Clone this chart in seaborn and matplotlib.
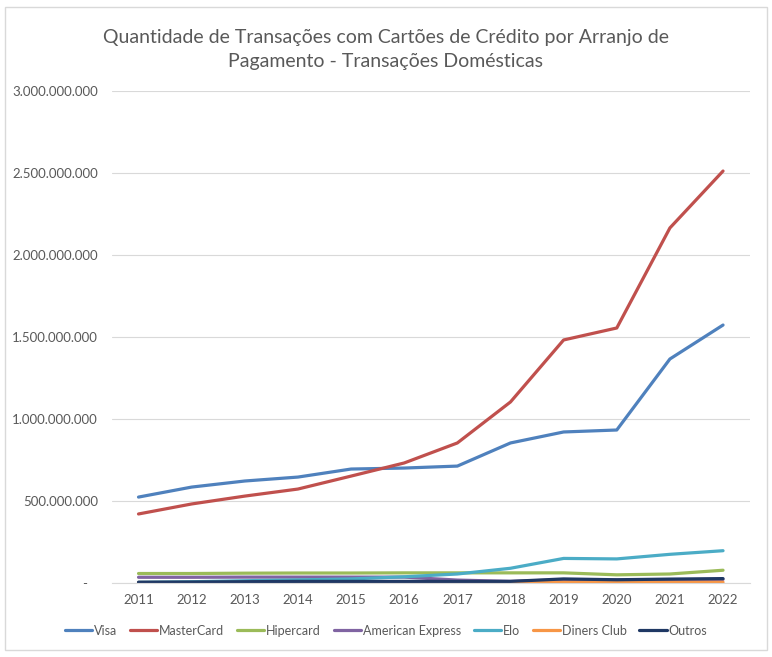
import pandas as pd
import matplotlib.pyplot as plt
import matplotlib.ticker as mticker
from matplotlib.patches import Rectangle
import seaborn as sns

# Values (number of transactions)
anos = ['2011', '2012', '2013', '2014', '2015', '2016', '2017', '2018', '2019', '2020', '2021', '2022']
visa = [524e6, 585e6, 622e6, 646e6, 695e6, 701e6, 713e6, 854e6, 921e6, 933e6, 1366e6, 1573e6]
mastercard = [421e6, 482e6, 530e6, 573e6, 652e6, 732e6, 854e6, 1104e6, 1482e6, 1555e6, 2165e6, 2512e6]
hipercard = [58e6, 58e6, 60e6, 61e6, 61e6, 62e6, 62e6, 62e6, 62e6, 50e6, 55e6, 78e6]
amex = [35e6, 35e6, 36e6, 36e6, 36e6, 36e6, 18e6, 10e6, 20e6, 18e6, 20e6, 22e6]
elo = [4e6, 8e6, 14e6, 19e6, 25e6, 38e6, 55e6, 90e6, 150e6, 147e6, 175e6, 197e6]
diners = [3e6, 3e6, 3e6, 3e6, 3e6, 3e6, 3e6, 3e6, 5e6, 5e6, 5e6, 5e6]
outros = [5e6, 6e6, 8e6, 10e6, 10e6, 10e6, 10e6, 10e6, 25e6, 20e6, 24e6, 27e6]

series = {
    'Visa': visa,
    'MasterCard': mastercard,
    'Hipercard': hipercard,
    'American Express': amex,
    'Elo': elo,
    'Diners Club': diners,
    'Outros': outros,
}
cores = ['#4F81BD', '#C0504D', '#9BBB59', '#8064A2', '#4BACC6', '#F79646', '#1F3864']

df = pd.DataFrame([
    {'ano': a, 'pos': i, 'arranjo': nome, 'valor': v}
    for nome, vals in series.items()
    for i, (a, v) in enumerate(zip(anos, vals))
])

sns.set_style('white')
plt.rcParams['font.family'] = ['Lato', 'DejaVu Sans']

fig = plt.figure(figsize=(7.72, 6.57), dpi=100)
ax = fig.add_axes([0.145, 0.1126, 0.826, 0.7489])

sns.lineplot(data=df, x='pos', y='valor', hue='arranjo', palette=cores,
             linewidth=2.3, ax=ax, legend=False)

ax.set_xlim(-0.5, 11.5)
ax.set_ylim(0, 3e9)
ax.set_xticks(range(len(anos)))
ax.set_xticklabels(anos)
ax.set_yticks([0, 5e8, 1e9, 1.5e9, 2e9, 2.5e9, 3e9])


def fmt(v, pos):
    if v == 0:
        return '-   '
    return f'{int(v):,}'.replace(',', '.')


ax.yaxis.set_major_formatter(mticker.FuncFormatter(fmt))
ax.tick_params(axis='both', length=0, labelsize=9.5, colors='#595959', pad=10)
ax.tick_params(axis='x', pad=8)
ax.grid(axis='y', color='#D9D9D9', linewidth=0.8)
ax.set_axisbelow(True)
for s in ['top', 'right', 'left']:
    ax.spines[s].set_visible(False)
ax.spines['bottom'].set_color('#D9D9D9')
ax.set_xlabel('')
ax.set_ylabel('')

fig.text(0.5, 0.925, 'Quantidade de Transações com Cartões de Crédito por Arranjo de\nPagamento - Transações Domésticas',
         ha='center', va='center', fontsize=14, color='#595959', linespacing=1.5)

handles = [plt.Line2D([0], [0], color=c, lw=2.3) for c in cores]
fig.legend(handles, list(series.keys()), loc='center', bbox_to_anchor=(0.5, 0.04),
           ncol=7, frameon=False, fontsize=9, handlelength=2.2, handletextpad=0.15,
           columnspacing=1.0, labelcolor='#595959')

fig.patches.append(Rectangle((0.007, 0.01), 0.986, 0.98, transform=fig.transFigure,
                             fill=False, edgecolor='#D9D9D9', linewidth=1))

fig.savefig('out.png', dpi=100)
